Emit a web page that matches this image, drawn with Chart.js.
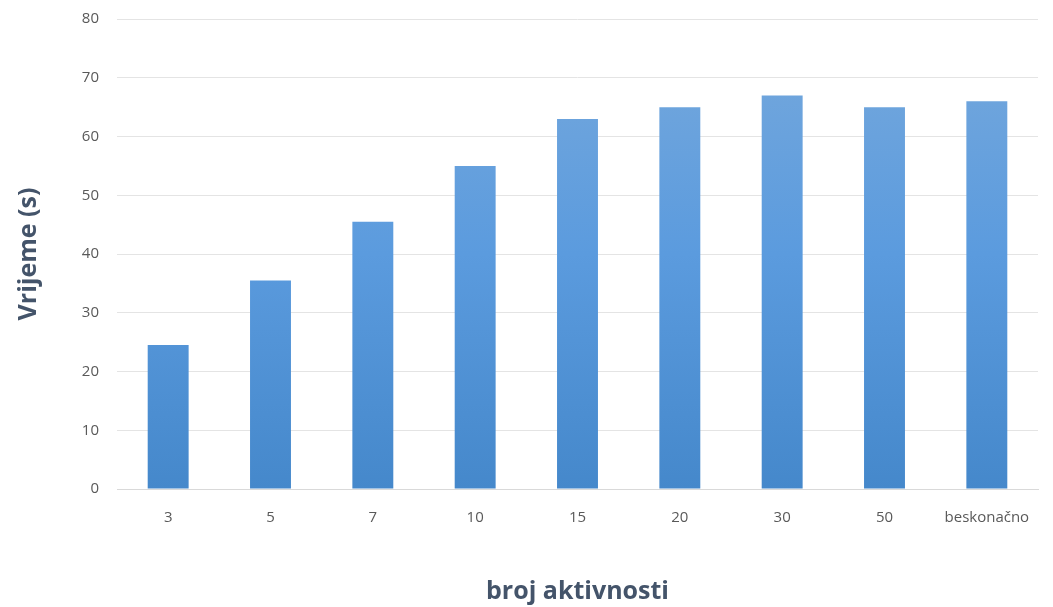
<!DOCTYPE html>
<html>
<head>
<meta charset="utf-8">
<script src="https://cdn.jsdelivr.net/npm/chart.js@4/dist/chart.umd.min.js"></script>
<style>
    body { margin: 0; background: #ffffff; }
    #wrap { width: 1053px; height: 607px; }
</style>
</head>
<body>
<div id="wrap"><canvas id="myChart"></canvas></div>
<script>
// podaci
const categories = ['3', '5', '7', '10', '15', '20', '30', '50', 'beskonačno'];
const vrijeme = [24.5, 35.5, 45.5, 55, 63, 65, 67, 65, 66];
const yTicks = [0, 10, 20, 30, 40, 50, 60, 70, 80];

function barGradient(context) {
    const chart = context.chart;
    const area = chart.chartArea;
    if (!area) {
        return '#5b9bd5';
    }
    const g = chart.ctx.createLinearGradient(0, area.top, 0, area.bottom);
    g.addColorStop(0, '#77a9dc');
    g.addColorStop(0.5, '#5b9bde');
    g.addColorStop(1, '#4588cb');
    return g;
}

const ctx = document.getElementById('myChart').getContext('2d');
const myChart = new Chart(ctx, {
    type: 'bar',
    data: {
        labels: categories,
        datasets: [{
            label: 'Vrijeme',
            data: vrijeme,
            backgroundColor: barGradient,
            borderWidth: 0,
            categoryPercentage: 1,
            barPercentage: 0.4,
        }]
    },
    options: {
        responsive: true,
        maintainAspectRatio: false,
        animation: false,
        layout: {
            padding: { top: 19, right: 15, left: 0, bottom: 0 }
        },
        plugins: {
            legend: { display: false },
            tooltip: { enabled: false }
        },
        scales: {
            x: {
                border: {
                    display: true,
                    color: '#d9d9d9',
                },
                grid: {
                    display: false,
                },
                ticks: {
                    color: '#595959',
                    font: { family: 'Open Sans', size: 15 },
                    padding: 12,
                    autoSkip: false,
                    maxRotation: 0,
                },
                title: {
                    display: true,
                    text: 'broj aktivnosti',
                    color: '#44546a',
                    font: { family: 'Open Sans', size: 25, weight: 'bold' },
                    padding: { top: 40, bottom: 0 },
                },
                afterFit: function (scale) {
                    scale.height = 118;
                }
            },
            y: {
                min: 0,
                max: 80,
                afterBuildTicks: function (scale) {
                    scale.ticks = yTicks.map(function (v) { return { value: v }; });
                },
                border: { display: false },
                grid: {
                    color: '#e4e4e4',
                    drawTicks: false,
                },
                ticks: {
                    color: '#595959',
                    font: { family: 'Open Sans', size: 15 },
                    padding: 18,
                },
                title: {
                    display: true,
                    text: 'Vrijeme (s)',
                    color: '#44546a',
                    font: { family: 'Open Sans', size: 25, weight: 'bold' },
                    padding: { top: 14, bottom: 10 },
                },
                afterFit: function (scale) {
                    scale.width = 117;
                    scale.paddingTop = 0;
                    scale.paddingBottom = 0;
                }
            }
        }
    }
});
</script>
</body>
</html>
